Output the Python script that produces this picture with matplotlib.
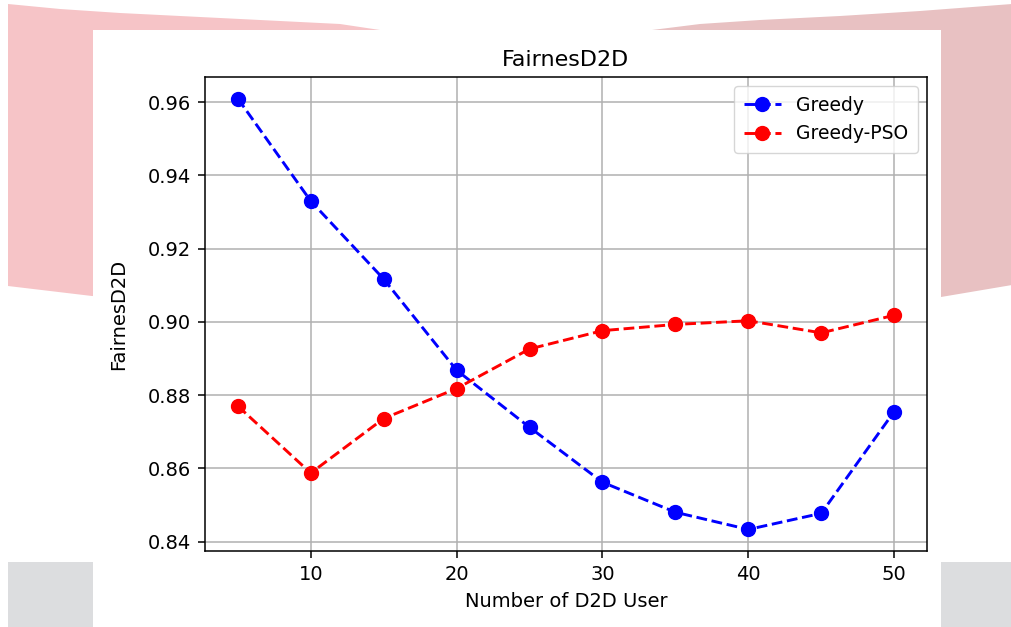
import numpy as np
import matplotlib.pyplot as plt
from matplotlib.patches import Polygon, Rectangle

# data
users = [5, 10, 15, 20, 25, 30, 35, 40, 45, 50]
greedy = [0.9610, 0.9330, 0.9117, 0.8868, 0.8712, 0.8562, 0.8480, 0.8433, 0.8477, 0.8755]
greedy_pso = [0.8770, 0.8587, 0.8736, 0.8818, 0.8926, 0.8976, 0.8993, 0.9003, 0.8970, 0.9018]

W, H = 1012, 627
fig = plt.figure(figsize=(W/100, H/100), dpi=100)

def px(pts):
    # pixel coords (y down) -> figure fraction
    return [(x/W, 1-y/H) for x, y in pts]

# slide background behind the chart
left_top = [(8, 4), (60, 9), (120, 13), (200, 17), (280, 21), (340, 24), (380, 30)]
right_top = [(652, 30), (700, 24), (760, 20), (840, 16), (920, 11), (1012, 4)]
fig.patches.append(Polygon(px(left_top + [(506, 32), (506, 300), (300, 300), (92, 296), (8, 286)]),
                           closed=True, transform=fig.transFigure, fc='#f6c4c7', ec='none', zorder=-3))
fig.patches.append(Polygon(px(right_top + [(1012, 285), (941, 297), (700, 300), (506, 300), (506, 32)]),
                           closed=True, transform=fig.transFigure, fc='#e8c1c2', ec='none', zorder=-3))
fig.patches.append(Rectangle((8/W, 0), (W-8)/W, (H-562)/H, transform=fig.transFigure,
                             fc='#dcdddf', ec='none', zorder=-3))
fig.patches.append(Rectangle((93/W, 0), (941-93)/W, (H-30)/H, transform=fig.transFigure,
                             fc='white', ec='none', zorder=-2))

ax = fig.add_axes([205/W, 1-551/H, (927-205)/W, (551-77)/H])
ax.plot(users, greedy, '--o', color='blue', lw=2.1, markersize=10, label='Greedy')
ax.plot(users, greedy_pso, '--o', color='red', lw=2.1, markersize=10, label='Greedy-PSO')
ax.grid(True, color='#b0b0b0', lw=1.1)
ax.set_title('FairnesD2D', fontsize=16, pad=8)
ax.set_xlabel('Number of D2D User', fontsize=14, labelpad=6)
ax.set_ylabel('FairnesD2D', fontsize=14, labelpad=14)
ax.tick_params(labelsize=14, length=5, width=1.1, pad=5)
for s in ax.spines.values():
    s.set_linewidth(1.1)
ax.legend(loc='upper right', fontsize=13.5, borderpad=0.5, handlelength=2.0)

plt.savefig('out.png', dpi=100)
